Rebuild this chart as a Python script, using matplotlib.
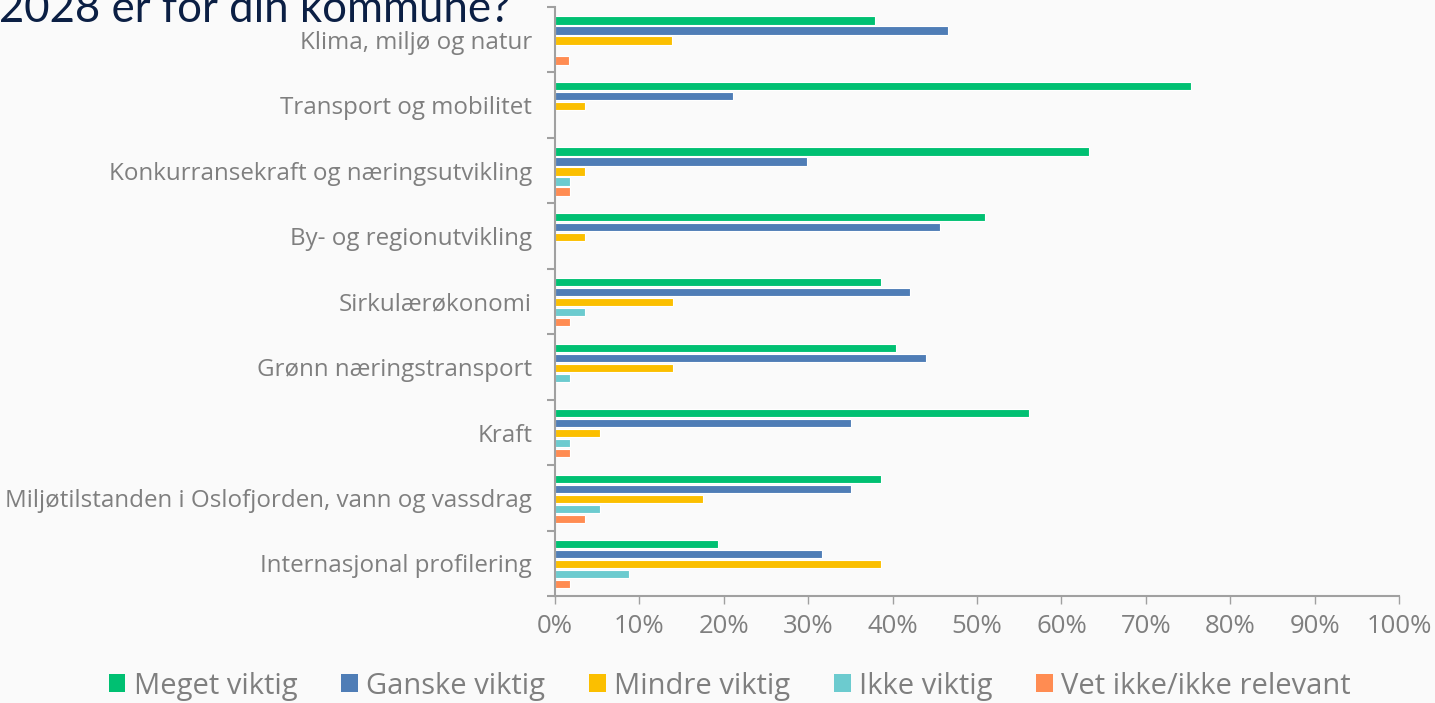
import matplotlib
matplotlib.use('Agg')
import matplotlib.pyplot as plt
import numpy as np
from matplotlib.patches import Patch

categories = ['Klima, miljø og natur', 'Transport og mobilitet',
              'Konkurransekraft og næringsutvikling', 'By- og regionutvikling',
              'Sirkulærøkonomi', 'Grønn næringstransport', 'Kraft',
              'Miljøtilstanden i Oslofjorden, vann og vassdrag',
              'Internasjonal profilering']
series = ['Meget viktig', 'Ganske viktig', 'Mindre viktig', 'Ikke viktig',
          'Vet ikke/ikke relevant']
meget = [37.9, 75.4, 63.2, 50.9, 38.6, 40.4, 56.1, 38.6, 19.3]
ganske = [46.6, 21.1, 29.8, 45.6, 42.1, 43.9, 35.1, 35.1, 31.6]
mindre = [13.8, 3.5, 3.5, 3.5, 14.0, 14.0, 5.3, 17.5, 38.6]
ikke = [0, 0, 1.75, 0, 3.5, 1.75, 1.75, 5.3, 8.8]
vet = [1.7, 0, 1.75, 0, 1.75, 0, 1.75, 3.5, 1.75]
colors = ['#00c072', '#4f7db6', '#fbbf00', '#6ccbcf', '#ff8c52']

bg = '#fafafa'
grey = '#7f7f7f'
label_font = 'Open Sans'

fig = plt.figure(figsize=(14.35, 7.03), dpi=100, facecolor=bg)
ax = fig.add_axes([0.3868, 0.152, 0.5882, 0.838], facecolor=bg)

y = np.arange(len(categories))
pitch = 0.153
for j, vals in enumerate([meget, ganske, mindre, ikke, vet]):
    ax.barh(y + (j - 2) * pitch + 0.012, vals, height=0.125, color=colors[j],
            edgecolor='white', linewidth=0.8)

ax.set_xlim(0, 100)
ax.set_ylim(len(categories) - 0.5, -0.5)
ax.set_xticks(np.arange(0, 101, 10))
ax.set_xticklabels([f'{v}%' for v in range(0, 101, 10)], fontsize=18.5,
                   color=grey, family=label_font)
ax.set_yticks(np.arange(len(categories) + 1) - 0.5)
ax.set_yticklabels([])
ax.set_yticks(y, minor=True)
ax.set_yticklabels(categories, minor=True, fontsize=17.4, color=grey,
                   family=label_font)
ax.tick_params(axis='y', which='minor', length=0, pad=16.5)
ax.tick_params(axis='y', which='major', length=6, width=1.5, color='#a0a0a0')
ax.tick_params(axis='x', length=6, width=1, color='#a0a0a0', pad=7)
for s in ['top', 'right']:
    ax.spines[s].set_visible(False)
for s in ['left', 'bottom']:
    ax.spines[s].set_color('#a0a0a0')
    ax.spines[s].set_linewidth(1.5)

handles = [Patch(facecolor=c, edgecolor='none') for c in colors]
fig.legend(handles, series, loc='center', bbox_to_anchor=(0.5085, 0.024),
           ncol=5, frameon=False, handlelength=0.58,
           handleheight=0.58, handletextpad=0.28, columnspacing=1.5,
           prop={'family': label_font, 'size': 21}, labelcolor=grey)

fig.text(-0.001, 0.969, '2028 er for din kommune?', fontsize=31.5,
         color='#0b1f44', family='Lato', va='baseline', ha='left')

fig.savefig('out.png', dpi=100, facecolor=bg)
